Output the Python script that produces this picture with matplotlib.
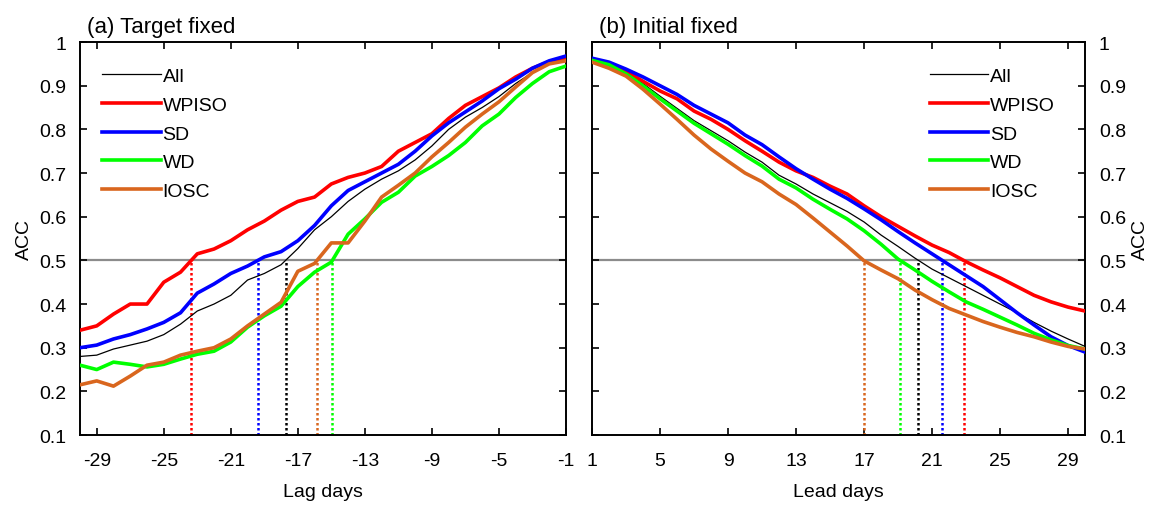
import numpy as np
import matplotlib
matplotlib.use('Agg')
import matplotlib.pyplot as plt

plt.rcParams['font.family'] = ['Liberation Sans', 'DejaVu Sans']
plt.rcParams['axes.unicode_minus'] = False

# Данные: (a) лаг -30..-1, (b) заблаговременность 1..30
lag_days = np.arange(-30, 0)
lead_days = np.arange(1, 31)

names = ['All', 'WPISO', 'SD', 'WD', 'IOSC']
colors = ['black', '#ff0000', '#0000ff', '#00ff00', '#d9661e']
widths = [0.9, 2.6, 2.6, 2.6, 2.6]

all_a = [0.28, 0.283, 0.297, 0.306, 0.315, 0.33, 0.354, 0.384, 0.40, 0.42,
         0.455, 0.47, 0.49, 0.527, 0.57, 0.60, 0.635, 0.663, 0.686, 0.705,
         0.73, 0.762, 0.80, 0.828, 0.85, 0.875, 0.905, 0.93, 0.952, 0.962]
wpiso_a = [0.34, 0.35, 0.377, 0.40, 0.40, 0.45, 0.473, 0.515, 0.526, 0.545,
           0.57, 0.59, 0.615, 0.635, 0.645, 0.675, 0.69, 0.70, 0.715, 0.75,
           0.77, 0.79, 0.825, 0.855, 0.875, 0.895, 0.92, 0.94, 0.955, 0.963]
sd_a = [0.30, 0.306, 0.32, 0.33, 0.343, 0.358, 0.38, 0.425, 0.446, 0.47,
        0.487, 0.508, 0.52, 0.545, 0.58, 0.625, 0.66, 0.68, 0.70, 0.72,
        0.75, 0.785, 0.815, 0.84, 0.865, 0.893, 0.915, 0.94, 0.957, 0.968]
wd_a = [0.26, 0.25, 0.267, 0.262, 0.256, 0.262, 0.274, 0.285, 0.292, 0.313,
        0.347, 0.373, 0.395, 0.44, 0.473, 0.496, 0.56, 0.595, 0.633, 0.656,
        0.693, 0.715, 0.74, 0.77, 0.808, 0.835, 0.873, 0.905, 0.932, 0.945]
iosc_a = [0.215, 0.224, 0.212, 0.235, 0.26, 0.267, 0.283, 0.292, 0.30, 0.32,
          0.35, 0.377, 0.404, 0.475, 0.493, 0.54, 0.54, 0.59, 0.645, 0.672,
          0.70, 0.737, 0.77, 0.805, 0.835, 0.863, 0.897, 0.93, 0.95, 0.957]

all_b = [0.96, 0.95, 0.932, 0.905, 0.876, 0.848, 0.82, 0.797, 0.774, 0.748,
         0.725, 0.695, 0.675, 0.652, 0.632, 0.612, 0.588, 0.558, 0.532, 0.505,
         0.48, 0.46, 0.44, 0.42, 0.40, 0.38, 0.358, 0.338, 0.32, 0.303]
wpiso_b = [0.957, 0.948, 0.933, 0.91, 0.888, 0.87, 0.842, 0.823, 0.80, 0.774,
           0.75, 0.725, 0.705, 0.69, 0.67, 0.652, 0.625, 0.60, 0.578, 0.556,
           0.535, 0.518, 0.497, 0.478, 0.46, 0.44, 0.42, 0.405, 0.393, 0.384]
sd_b = [0.963, 0.954, 0.938, 0.92, 0.90, 0.88, 0.855, 0.835, 0.815, 0.787,
        0.765, 0.737, 0.71, 0.686, 0.663, 0.642, 0.618, 0.593, 0.566, 0.54,
        0.515, 0.49, 0.465, 0.44, 0.41, 0.38, 0.352, 0.325, 0.305, 0.29]
wd_b = [0.958, 0.948, 0.927, 0.90, 0.87, 0.842, 0.814, 0.79, 0.766, 0.74,
        0.716, 0.686, 0.666, 0.64, 0.617, 0.595, 0.568, 0.537, 0.503, 0.478,
        0.452, 0.428, 0.405, 0.388, 0.37, 0.352, 0.333, 0.318, 0.305, 0.297]
iosc_b = [0.954, 0.94, 0.922, 0.892, 0.858, 0.823, 0.787, 0.755, 0.727, 0.70,
          0.68, 0.652, 0.628, 0.597, 0.565, 0.533, 0.499, 0.478, 0.458, 0.432,
          0.41, 0.39, 0.375, 0.36, 0.347, 0.335, 0.325, 0.313, 0.303, 0.297]

series_a = [all_a, wpiso_a, sd_a, wd_a, iosc_a]
series_b = [all_b, wpiso_b, sd_b, wd_b, iosc_b]
threshold = 0.5


def crossing(x, y, level):
    # первая точка пересечения уровня (линейная интерполяция)
    y = np.asarray(y)
    s = np.sign(y - level)
    for i in range(len(y) - 1):
        if s[i] != s[i + 1]:
            return x[i] + (level - y[i]) / (y[i + 1] - y[i]) * (x[i + 1] - x[i])
    return None


fig = plt.figure(figsize=(11.59, 5.10), dpi=100)
ax1 = fig.add_axes([0.069, 0.145, 0.4193, 0.7706])
ax2 = fig.add_axes([0.5108, 0.145, 0.4254, 0.7706])

panels = [(ax1, lag_days, series_a, '(a) Target fixed', 'Lag days',
           [-29, -25, -21, -17, -13, -9, -5, -1], (-30, -1)),
          (ax2, lead_days, series_b, '(b) Initial fixed', 'Lead days',
           [1, 5, 9, 13, 17, 21, 25, 29], (1, 30))]

for ax, x, series, title, xlabel, xt, xlim in panels:
    ax.axhline(threshold, color='#8c8c8c', lw=1.6, zorder=1)
    for vals, name, c, lw in zip(series, names, colors, widths):
        ax.plot(x, vals, color=c, lw=lw, label=name, zorder=3)
        xc = crossing(x, vals, threshold)
        if xc is not None:
            ax.plot([xc, xc], [0.1, threshold], color=c, lw=1.8,
                    linestyle=(0, (1, 1)), zorder=2)
    ax.set_xlim(*xlim)
    ax.set_ylim(0.1, 1)
    ax.set_xticks(xt)
    ax.set_yticks(np.arange(0.1, 1.01, 0.1))
    ax.set_yticklabels(['0.1', '0.2', '0.3', '0.4', '0.5', '0.6', '0.7',
                        '0.8', '0.9', '1'])
    ax.tick_params(direction='in', top=True, right=True, labelsize=14,
                   length=5, width=1.2, pad=10)
    ax.tick_params(axis='x', pad=12)
    for sp in ax.spines.values():
        sp.set_linewidth(1.4)
    ax.set_xlabel(xlabel, fontsize=14, labelpad=10)
    ax.set_ylabel('ACC', fontsize=14, labelpad=4)
    ax.text(0.015, 1.012, title, transform=ax.transAxes, fontsize=16,
            ha='left', va='bottom')

ax2.yaxis.tick_right()
ax2.yaxis.set_label_position('right')
ax2.tick_params(left=True, labelleft=False, labelright=True)

ax1.legend(loc='upper left', bbox_to_anchor=(0.03, 0.955), frameon=False,
           fontsize=14, handlelength=3.0, handletextpad=0.1,
           labelspacing=0.57, borderaxespad=0)
ax2.legend(loc='upper right', bbox_to_anchor=(0.955, 0.955), frameon=False,
           fontsize=14, handlelength=3.0, handletextpad=0.1,
           labelspacing=0.57, borderaxespad=0)

plt.savefig('out.png', dpi=100)
